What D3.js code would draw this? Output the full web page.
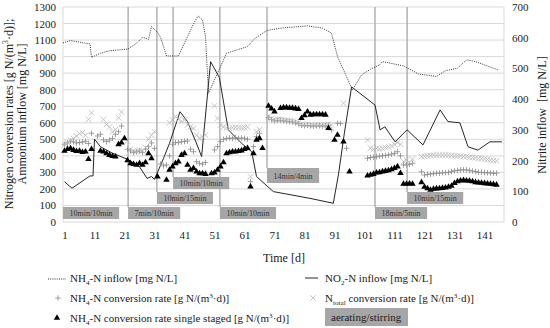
<!DOCTYPE html>
<html>
<head>
<meta charset="utf-8">
<script src="https://cdn.jsdelivr.net/npm/d3@7"></script>
<style>
  body { margin: 0; background: #fff; }
  svg, svg text { font-family: "Liberation Serif", "Times New Roman", serif; }
</style>
</head>
<body>
<svg id="chart" width="550" height="328"></svg>
<script>
// ---- data ----
const xTicks = [1, 11, 21, 31, 41, 51, 61, 71, 81, 91, 101, 111, 121, 131, 141];
const leftTicks = d3.range(0, 1301, 100);
const rightTicks = d3.range(0, 701, 100);

// NH4-N inflow [mg N/L], left axis
const nh4InDays = [0.5, 3, 9.5, 10, 13, 16, 22, 25, 27, 29, 30, 32, 33, 35, 39, 42, 44, 45.5, 47, 48, 49, 52, 55, 62, 64.5, 68.5, 73, 82, 87, 90, 92, 94, 97, 100, 103, 106, 107, 114, 119, 125, 128, 132, 135, 138, 145.5];
const nh4InVals = [1083, 1097, 1077, 996, 1020, 1036, 1045, 1081, 1117, 1105, 1181, 1147, 1117, 1004, 1004, 1121, 1198, 1246, 1222, 1121, 779, 899, 1020, 1061, 1111, 1158, 1172, 1186, 1172, 1142, 1000, 920, 799, 889, 924, 950, 970, 944, 895, 880, 915, 930, 980, 970, 920];

// NO2-N inflow [mg N/L], right axis
const no2InDays = [1, 3.5, 9.5, 10.5, 11, 13, 17, 22, 26, 28.5, 30, 31, 34, 36, 39.5, 42, 45.2, 46.7, 49.7, 52.6, 55.6, 60.6, 63.4, 65, 70.6, 82.8, 90.6, 92.3, 94.3, 96.7, 103.8, 104.5, 106.2, 107.8, 111.2, 115.2, 120.5, 126.2, 128.8, 132.8, 135.5, 138.8, 142.8, 146.8];
const no2InVals = [131, 110, 150, 150, 270, 245, 224, 204, 180, 142, 148, 139, 207, 256, 359, 327, 251, 213, 522, 471, 300, 251, 229, 148, 99, 77, 61, 153, 290, 440, 386, 381, 300, 310, 261, 300, 251, 365, 327, 323, 245, 234, 261, 261];

// NH4-N conversion rate [g N/(m3 d)] (+)
const nh4RateDays = [1,2,3,4,5,6,7,8,9,10,12,13,14,15,16,17,18,19,20,22,23,24,25,26,27,28,29,30,31,33,34,35,36,37,38,39,40,41,42,43,44,45,46,47,48,51,52,53,54,55,56,57,58,59,60,61,62,63,64,65,66,69,70,71,72,73,74,75,76,77,78,79,80,81,82,83,84,85,86,87,88,89,90,92,93,95,102,103,104,105,106,107,108,109,110,111,112,113,114,115,116,117,120,121,122,123,124,125,126,127,128,129,130,131,132,133,134,135,136,137,138,139,140,141,142,143,144,145];
const nh4RateVals = [470,478,488,484,478,480,484,488,475,536,520,530,496,486,495,505,530,546,580,440,430,420,425,430,420,440,455,478,445,350,340,345,400,470,480,480,485,488,490,440,425,365,355,350,360,436,456,486,500,505,508,505,510,505,508,505,500,244,456,516,536,632,620,612,615,615,612,610,607,605,600,595,585,582,585,582,580,582,582,580,582,585,556,597,595,446,385,390,392,395,398,400,403,405,410,415,425,400,345,345,348,355,304,284,288,290,292,295,295,298,298,300,305,310,312,315,315,315,312,308,305,300,300,298,298,296,295,295];

// N_total conversion rate [g N/(m3 d)] (x)
const ntotRateDays = [1,2,3,4,5,6,7,8,9,10,14,15,16,17,18,19,20,22,23,24,25,26,27,28,29,30,31,36,37,38,39,40,41,42,43,44,45,46,47,48,51,52,53,54,55,56,57,58,59,60,61,62,63,65,66,69,70,71,72,73,74,75,76,77,78,79,80,81,82,83,84,85,86,87,88,89,90,94,102,103,104,105,106,107,108,109,110,111,112,113,114,115,116,117,120,121,122,123,124,125,126,127,128,129,130,131,132,133,134,135,136,137,138,139,140,141,142,143,144,145];
const ntotRateVals = [470,480,495,505,520,535,540,525,620,660,620,590,575,545,560,630,665,490,440,430,425,435,430,450,500,525,546,600,617,637,620,610,617,587,575,567,526,506,515,526,702,627,587,575,570,567,570,572,570,568,572,575,274,546,560,637,625,617,620,620,617,615,612,610,605,600,590,587,590,587,585,587,587,585,587,590,587,718,496,446,440,445,442,445,450,455,460,470,480,470,365,375,360,380,395,398,400,402,405,405,405,405,405,405,402,400,400,398,395,395,392,390,388,385,383,380,378,375,372,370];

// NH4-N conversion rate single staged (triangles)
const singleDays = [1,2,3,4,5,6,7,8,9,10,13,14,15,16,17,18,19,20,21,22,23,24,25,26,27,28,29,30,32,35,36,37,38,39,40,41,42,43,44,45,46,47,48,50,51,52,53,54,55,56,57,58,59,60,61,62,63,64,65,66,67,69,70,71,73,74,75,76,77,78,79,80,81,82,83,84,85,86,87,88,89,91,92,94,96,102,103,104,105,106,107,108,109,110,111,112,113,114,115,116,117,120,121,122,123,124,125,126,127,128,129,130,131,132,133,134,135,136,137,138,139,140,141,142,143,144,145];
const singleVals = [430,440,445,435,428,430,422,425,380,440,430,425,415,405,398,395,470,480,505,372,355,350,345,355,345,360,415,385,274,254,315,335,355,365,405,415,345,315,325,304,294,294,290,294,298,315,335,360,415,421,425,425,428,432,440,446,214,415,496,506,446,702,685,668,688,692,692,690,690,686,682,628,645,667,648,650,650,650,650,648,567,496,526,486,304,280,285,290,298,300,305,308,312,318,325,335,295,230,230,232,230,240,212,203,194,200,202,203,205,208,212,218,235,245,250,252,250,248,245,240,238,236,234,232,230,228,225];

// operating phases (aerating/stirring) and where each box sits
const phaseStart = [0.5, 22.2, 31.8, 37.2, 52.8, 68.5, 104.5, 115.2];
const phaseLabel = ["10min/10min", "7min/10min", "10min/15min", "10min/10min", "10min/10min", "14min/4min", "18min/5min", "10min/15min"];
const phaseRow = [0, 0, 1, 2, 0, 3, 0, 1];

// ---- layout ----
const svg = d3.select("#chart");
const pLeft = 63, pRight = 504, pTop = 7, pBottom = 222;
const rowTop = [207, 192, 177, 168];
const rowH = [12, 12, 12, 15];
const serif = '"Liberation Serif", "Times New Roman", serif';

const x = d3.scaleLinear().domain([0.5, 147.5]).range([pLeft, pRight]);
const yL = d3.scaleLinear().domain([0, 1300]).range([pBottom, pTop]);
const yR = d3.scaleLinear().domain([0, 700]).range([pBottom, pTop]);

// gridlines
svg.append("g").selectAll("line").data(leftTicks).join("line")
  .attr("x1", pLeft).attr("x2", pRight)
  .attr("y1", d => yL(d)).attr("y2", d => yL(d))
  .attr("stroke", "#d9d9d9").attr("stroke-width", 1);
svg.append("g").selectAll("line").data([pLeft, pRight]).join("line")
  .attr("x1", d => d).attr("x2", d => d).attr("y1", pTop).attr("y2", pBottom)
  .attr("stroke", "#d9d9d9");

// axes
const fmt = d3.format("d");
const axL = svg.append("g").attr("transform", `translate(${pLeft},0)`)
  .call(d3.axisLeft(yL).tickValues(leftTicks).tickFormat(fmt).tickSize(0).tickPadding(7));
const axR = svg.append("g").attr("transform", `translate(${pRight},0)`)
  .call(d3.axisRight(yR).tickValues(rightTicks).tickFormat(fmt).tickSize(0).tickPadding(8));
const axB = svg.append("g").attr("transform", `translate(0,${pBottom})`)
  .call(d3.axisBottom(x).tickValues(xTicks).tickFormat(fmt).tickSize(0).tickPadding(9));
[axL, axR, axB].forEach(a => {
  a.attr("font-family", null).attr("font-size", null);
  a.select(".domain").remove();
  a.selectAll("text").attr("font-size", 11).attr("fill", "#1a1a1a")
    .style("font-family", serif);
});

// phase separators
const phases = phaseStart.map((s, i) => ({ s, label: phaseLabel[i], row: phaseRow[i] }));
svg.append("g").selectAll("line").data(phases.filter(p => p.s > 1)).join("line")
  .attr("x1", p => x(p.s)).attr("x2", p => x(p.s))
  .attr("y1", pTop).attr("y2", p => rowTop[p.row])
  .attr("stroke", "#a6a6a6").attr("stroke-width", 1.3);

// series lines
const lineL = d3.line().x(d => x(d[0])).y(d => yL(d[1]));
const lineR = d3.line().x(d => x(d[0])).y(d => yR(d[1]));
svg.append("path").datum(d3.zip(nh4InDays, nh4InVals))
  .attr("d", lineL).attr("fill", "none").attr("stroke", "#333")
  .attr("stroke-width", 1).attr("stroke-dasharray", "1,1.2");
svg.append("path").datum(d3.zip(no2InDays, no2InVals))
  .attr("d", lineR).attr("fill", "none").attr("stroke", "#262626")
  .attr("stroke-width", 1);

// markers
const crossPath = s => `M${-s},${-s}L${s},${s}M${-s},${s}L${s},${-s}`;
const plusPath = s => `M${-s},0L${s},0M0,${-s}L0,${s}`;

svg.append("g").selectAll("path").data(d3.zip(nh4RateDays, nh4RateVals)).join("path")
  .attr("transform", d => `translate(${x(d[0])},${yL(d[1])})`)
  .attr("d", plusPath(2.8)).attr("stroke", "#8c8c8c").attr("stroke-width", 0.8).attr("fill", "none");
svg.append("g").selectAll("path").data(d3.zip(ntotRateDays, ntotRateVals)).join("path")
  .attr("transform", d => `translate(${x(d[0])},${yL(d[1])})`)
  .attr("d", crossPath(2.8)).attr("stroke", "#b8b8b8").attr("stroke-width", 0.8).attr("fill", "none");
const tri = d3.symbol(d3.symbolTriangle, 18)();
svg.append("g").selectAll("path").data(d3.zip(singleDays, singleVals)).join("path")
  .attr("transform", d => `translate(${x(d[0])},${yL(d[1])})`)
  .attr("d", tri).attr("fill", "#000");

// phase boxes
const pg = svg.append("g").selectAll("g").data(phases).join("g");
pg.each(function (p) {
  const g = d3.select(this);
  const t = g.append("text").text(p.label).attr("font-size", 8).attr("fill", "#333");
  const w = t.node().getComputedTextLength() + 13;
  const bx = x(p.s), by = rowTop[p.row], bh = rowH[p.row];
  g.insert("rect", "text").attr("x", bx).attr("y", by).attr("width", w).attr("height", bh)
    .attr("fill", "#a6a6a6");
  t.attr("x", bx + w / 2).attr("y", by + bh / 2 + 3).attr("text-anchor", "middle");
});

// rich text helper: parts = [[text, mode]]
function rich(sel, parts, size) {
  parts.forEach(([s, m]) => {
    const ts = sel.append("tspan").text(s);
    if (m === "sub") ts.attr("font-size", size * 0.65).attr("dy", size * 0.28);
    else if (m === "sup") ts.attr("font-size", size * 0.65).attr("dy", -size * 0.38);
    else if (m === "back-sub") ts.attr("dy", -size * 0.28);
    else if (m === "back-sup") ts.attr("dy", size * 0.38);
  });
  return sel;
}

// axis titles
const yt = svg.append("text").attr("font-size", 12).attr("fill", "#1a1a1a")
  .attr("text-anchor", "middle").attr("transform", "translate(12.5,114) rotate(-90)");
rich(yt, [["Nitrogen conversion rates [g N/(m", ""], ["3", "sup"], ["·d)];", "back-sup"]], 12);
svg.append("text").attr("font-size", 12).attr("fill", "#1a1a1a")
  .attr("text-anchor", "middle").attr("transform", "translate(25.5,114) rotate(-90)")
  .text("Ammonium inflow [mg N/L]");
svg.append("text").attr("font-size", 12).attr("fill", "#1a1a1a")
  .attr("text-anchor", "middle").attr("transform", "translate(546,115) rotate(-90)")
  .style("white-space", "pre").text("Nitrite inflow  [mg N/L]");
svg.append("text").attr("font-size", 12).attr("fill", "#1a1a1a")
  .attr("x", 284).attr("y", 262).attr("text-anchor", "middle").text("Time [d]");

// legend
const lg = svg.append("g").attr("font-size", 11).attr("fill", "#1a1a1a");
lg.append("line").attr("x1", 48).attr("x2", 66).attr("y1", 279).attr("y2", 279)
  .attr("stroke", "#333").attr("stroke-dasharray", "1,1.2");
lg.append("path").attr("transform", "translate(58,298)").attr("d", plusPath(2.8))
  .attr("stroke", "#8c8c8c").attr("stroke-width", 0.8);
lg.append("path").attr("transform", "translate(57,318)").attr("d", tri).attr("fill", "#000");
lg.append("line").attr("x1", 305).attr("x2", 318).attr("y1", 278).attr("y2", 278)
  .attr("stroke", "#262626");
lg.append("path").attr("transform", "translate(313,298)").attr("d", crossPath(2.8))
  .attr("stroke", "#b8b8b8").attr("stroke-width", 0.8);

rich(lg.append("text").attr("x", 70).attr("y", 282),
  [["NH", ""], ["4", "sub"], ["-N inflow [mg N/L]", "back-sub"]], 11);
rich(lg.append("text").attr("x", 70).attr("y", 302),
  [["NH", ""], ["4", "sub"], ["-N conversion rate [g N/(m", "back-sub"], ["3", "sup"], ["·d)]", "back-sup"]], 11);
rich(lg.append("text").attr("x", 70).attr("y", 322),
  [["NH", ""], ["4", "sub"], ["-N conversion rate single staged [g N/(m", "back-sub"], ["3", "sup"], ["·d)]", "back-sup"]], 11);
rich(lg.append("text").attr("x", 325).attr("y", 282),
  [["NO", ""], ["2", "sub"], ["-N inflow [mg N/L]", "back-sub"]], 11);
rich(lg.append("text").attr("x", 325).attr("y", 302),
  [["N", ""], ["total", "sub"], [" conversion rate [g N/(m", "back-sub"], ["3", "sup"], ["·d)]", "back-sup"]], 11);
lg.append("rect").attr("x", 325).attr("y", 308).attr("width", 83).attr("height", 18).attr("fill", "#a6a6a6");
lg.append("text").attr("x", 331).attr("y", 321).text("aerating/stirring");
</script>
</body>
</html>
